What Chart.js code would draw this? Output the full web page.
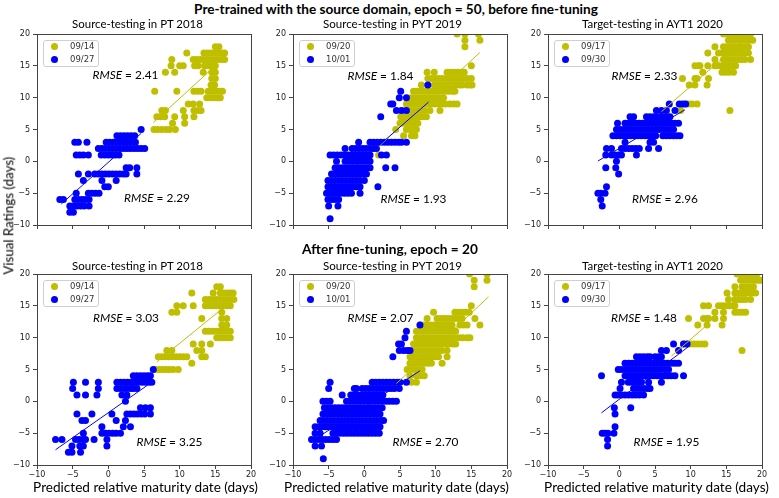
<!DOCTYPE html>
<html><head><meta charset="utf-8">
<script src="https://cdn.jsdelivr.net/npm/chart.js@4/dist/chart.umd.min.js"></script>
<style>
html,body{margin:0;padding:0;background:#fff;}
#wrap{position:relative;width:779px;height:498px;overflow:hidden;}
canvas{position:absolute;}
.t{position:absolute;white-space:nowrap;color:#000;line-height:1;}
.lg{position:absolute;border:1px solid #cfcfcf;border-radius:3px;background:rgba(255,255,255,0.85);font-family:'DejaVu Sans';font-size:8.5px;color:#333;box-sizing:border-box;}
.lg span{position:absolute;line-height:1;}
.lg i{position:absolute;width:7px;height:7px;border-radius:50%;}
</style></head><body><div id="wrap"></div>
<script>
// ---------------- data ----------------
const X_TICKS = [-10, -5, 0, 5, 10, 15, 20];
const Y_TICKS = [-10, -5, 0, 5, 10, 15, 20];
const SUBTITLES = ["Source-testing in PT 2018", "Source-testing in PYT 2019", "Target-testing in AYT1 2020"];
const LEGENDS = [["09/14","09/27"],["09/20","10/01"],["09/17","09/30"],["09/14","09/27"],["09/20","10/01"],["09/17","09/30"]];
const RMSE_UPPER = ["2.41","1.84","2.33","3.03","2.07","1.48"];
const RMSE_LOWER = ["2.29","1.93","2.96","3.25","2.70","1.95"];

// rows: [visual rating, [predicted values...]]
const pre_PT2018_0914 = [[18,[15.0,15.5]],[17,[11.0,13.4,13.9,14.4,14.9,15.4,15.9,16.3]],[16,[8.9,11.9,12.4,12.9,13.4,13.9,14.4,14.9,15.4,15.9,16.3]],[15,[8.8,10.0,10.5,12.1,12.6,13.5,14.0,14.5,15.0]],[14,[8.0,9.3,13.3,14.5,15.0]],[13,[14.5,15.0]],[12,[14.4,14.9]],[11,[6.5,9.6,12.0,12.5,13.0,14.0,14.5,15.0,15.5,16.0]],[10,[13.8,14.3,14.8,15.3,15.7]],[9,[11.2,11.9,12.8]],[8,[7.5,8.0,10.5,12.0,12.5,13.0]],[7,[6.8,7.3,7.9,9.3,10.7,12.0]],[6,[9.0,10.7]],[5,[6.4,6.9,7.5,8.1,8.6,9.4]]];
const pre_PT2018_0927 = [[5,[4.6]],[4,[1.2,1.7,2.2,2.7,3.2,3.7]],[3,[-4.7,-4.2,-3.0,-0.3,0.2,0.7,1.2,1.7,2.2,2.7,3.2,3.8]],[2,[-1.4,-0.9,-0.4,0.1,0.6,1.1,1.6,2.1,2.6,3.1,3.6,4.1,4.6,5.1]],[1,[-4.5,-4.0,-3.5,-2.8,-1.0,-0.5,0.0,0.5,1.0,1.5]],[-1,[2.5,3.0,4.0]],[-2,[-4.2,-2.8,-1.9,-1.4,-0.9,-0.4,0.1,0.6,1.1,1.6,2.1,2.5,4.0]],[-3,[-3.5,-0.9,1.1]],[-4,[-0.5,0.0]],[-5,[-4.5,-2.8,-2.3,-1.8,-1.3]],[-6,[-6.8,-6.3,-4.7,-4.2,-3.7,-3.2,-2.7]],[-7,[-5.4,-4.9,-4.4,-3.9,-3.4,-2.7]],[-8,[-5.4,-4.9]]];
const pre_PYT2019_0920 = [[20,[13.0,14.1,16.0]],[19,[14.1,16.2]],[18,[14.1]],[15,[15.0]],[14,[8.8,9.8,11.6,12.1,12.6,13.1,13.6,14.0]],[13,[8.9,9.4,9.9,10.4,10.9,11.4,11.9,12.4,12.9,13.4,13.9,14.4,15.0]],[12,[8.0,9.8,10.3,10.8,11.3,11.8,12.3,12.8,13.3,13.7,14.4,14.8,15.1]],[11,[6.9,7.4,7.9,8.4,8.9,9.4,9.9,10.4,10.9,11.4,11.9,12.4,12.7]],[10,[6.5,7.0,7.5,8.0,8.5,9.0,9.5,10.0,10.5,11.1]],[9,[5.9,6.4,6.9,7.4,7.9,8.4,8.9,9.4,9.9,10.4,10.9,11.4,12.0,12.5,13.0]],[8,[5.5,6.0,6.5,7.0,7.5,8.0,8.5,9.2,10.6]],[7,[5.1,5.6,6.1,6.6,7.1,7.6,8.1,8.7]],[6,[5.0,5.5,6.0,6.5,7.0,7.5]],[5,[4.4,5.9,6.4,6.9,7.3]],[4,[5.5,6.6,7.1]],[1,[2.0]]];
const pre_PYT2019_1001 = [[12,[8.9]],[11,[5.1]],[10,[4.9,5.9]],[9,[3.7,4.0]],[8,[4.5,5.2,5.9]],[7,[2.3]],[3,[-0.8,0.8,1.3,1.8,2.3,2.8,3.3,3.8,4.3,4.8,5.2,5.9]],[2,[-2.7,-1.7,-1.2,-0.7,-0.2,0.3,0.8,1.3,1.7]],[1,[-4.8,-4.3,-3.8,-3.3,-2.8,-2.3,-1.8,-1.3,-0.8,-0.3,0.2,0.8,2.4,3.1]],[0,[-3.9,-2.7,-2.2,-1.7,-1.2,-0.7,-0.2,0.3,0.8]],[-1,[-4.1,-3.6,-3.1,-2.6,-2.1,-1.6,-1.1,-0.6,-0.1,0.4,0.8,3.0,4.3]],[-2,[-4.6,-4.1,-3.6,-3.1,-2.6,-2.1,-1.6,-1.1,-0.6,-0.1,0.3]],[-3,[-5.1,-4.6,-4.1,-3.6,-3.1,-2.6,-2.1,-1.6,-1.1,-0.6,0.0]],[-4,[-5.1,-4.6,-4.1,-3.6,-3.1,-2.6,-2.1,-1.6,-1.1,-0.6,1.9]],[-5,[-5.3,-4.8,-4.3,-3.8,-3.3,-2.8,-2.3,-1.8,-0.6]],[-6,[-5.1,-4.6,-4.1,-3.6]],[-7,[-5.0,-3.7]],[-9,[-4.8]]];
const pre_AYT2020_0917 = [[20,[14.6,15.1,15.6,16.1,16.6,17.1,17.6,18.0,18.4]],[19,[15.3,15.8,16.3,16.8,17.3,17.8,18.2,18.7]],[18,[13.4,14.6,15.1,15.6,16.1,16.6,17.1,17.6,18.1]],[17,[12.4,13.9,14.4,14.9,15.4,15.9,16.4,16.9,17.4,18.1]],[16,[13.4,14.6,15.1,15.6,16.1,16.6,17.1,17.6,18.4]],[15,[10.6,11.1,11.3,12.4,13.4,13.9,14.4,14.9,15.4,15.9,16.3]],[14,[11.7,14.4,14.9,15.4,16.0]],[13,[8.85,10.6,10.9,12.5]],[12,[9.8,10.6,12.3]],[9,[9.2,9.7,10.2,10.9]],[8,[8.6,15.5]]];
const pre_AYT2020_0930 = [[9,[7.0,8.4,8.85,9.3]],[8,[5.2,5.9,6.6,7.8]],[7,[1.5,2.0,3.8,4.3,4.8,5.2,5.7,6.2,6.6,7.1]],[6,[-0.25,0.8,1.3,1.8,2.3,2.8,3.3,3.8,4.3,4.8,5.3,5.8,6.3,6.8,7.3,7.8,8.3]],[5,[-0.4,0.1,0.6,1.1,1.6,2.1,2.6,3.1,3.6,4.1,4.6,5.1,5.6,6.1,6.6,7.1,7.6]],[4,[-0.9,-0.4,0.1,0.6,1.1,1.6,2.1,2.6,3.1,3.6,4.1,4.6,5.1,6.1,6.6,7.1,7.6,8.1,8.5]],[3,[0.8,4.3,4.8]],[2,[-1.8,-1.1,0.3,0.8,1.3,1.8,2.3,2.8,4.1,5.5]],[1,[-1.9,-1.1,-0.6,-0.1,0.3,2.4]],[0,[-0.4]],[-1,[-1.9,-0.5]],[-2,[-0.1]],[-4,[-1.8]],[-5,[-3.0,-2.6,-2.0]],[-6,[-2.6]],[-7,[-2.4]]];
const post_PT2018_0914 = [[18,[15.2,15.7]],[17,[11.7,14.7,15.7,16.2,16.7,17.1,17.5]],[16,[13.6,14.1,14.6,15.1,15.6,16.1,16.6,17.1,17.6]],[15,[9.6,10.5,11.9,13.6,14.1,14.6,15.1,15.6,16.1,16.6,17.1]],[14,[8.9,9.6,15.9]],[13,[13.1,15.9,16.6]],[12,[15.9,16.6]],[11,[13.6,14.1,14.6,15.1,15.6,16.1,16.6,17.1]],[10,[15.2,15.7,16.2,16.6,17.1]],[9,[11.9,13.1,14.3]],[8,[8.2,8.9,12.4,13.1]],[7,[7.0,7.5,8.0,8.5,9.0,9.5,10.0,10.5,11.0,13.1,13.6]],[6,[11.7]],[5,[6.6,7.1,7.6,8.1,8.6,9.1,9.8]]];
const post_PT2018_0927 = [[5,[6.3]],[4,[3.5,4.0,4.5,5.0,5.5,5.9]],[3,[-4.9,-3.2,-1.4,1.2,1.7,2.2,2.7,3.2,3.7,4.2,4.7,5.2,5.7,6.1]],[2,[-5.0,-1.4,1.2,1.7,2.2,2.6,3.1,3.5,4.0]],[1,[-4.4,-3.2,-1.6,1.9,2.6]],[0,[2.4]],[-1,[4.5,5.2,5.9]],[-2,[-4.4,-2.3,0.5,2.6,3.1,3.6,4.1,4.6,5.1,5.9]],[-3,[-3.7,-3.2,1.1,2.4]],[-4,[-0.9,2.1,3.1]],[-5,[-3.5,-0.9,-0.4,0.1,0.6,1.1,1.7]],[-6,[-7.4,-6.5,-4.6,-4.1,-3.6,-3.2,-2.0,-0.2]],[-7,[-5.1,-4.0,-3.5,-0.2]],[-8,[-5.6,-5.1,-3.9]]];
const post_PYT2019_0920 = [[20,[14.75,17.2]],[19,[15.4,17.2]],[18,[15.4]],[15,[15.0]],[14,[9.7,12.7,13.2,13.7,14.2,14.7]],[13,[8.8,10.2,10.7,11.2,11.7,12.2,12.7,13.2,13.7,15.5]],[12,[7.8,8.3,8.8,9.3,9.8,10.3,10.8,11.3,11.8,12.3,13.4,13.9,14.4,16.2]],[11,[7.3,7.8,8.3,8.8,9.3,9.8,10.3,10.8,11.3,11.8,12.3,12.8]],[10,[7.3,7.8,8.3,8.8,9.3,9.8,10.3,10.8,11.3,11.8,12.3,12.8,13.3,13.8,14.4,14.8]],[9,[6.9,7.4,7.9,8.4,8.9,9.4,9.9,10.4,10.9,11.4,11.9,12.4,12.8]],[8,[6.9,7.4,7.9,8.4,8.9,9.4,9.9,10.4,10.9,11.6]],[7,[6.4,6.9,7.4,7.9,8.4,8.9,9.4,9.9,10.4,11.6]],[6,[6.4,6.9,7.4,7.9,8.4,8.9,9.4,10.9]],[5,[6.0,6.5,7.0,7.5,8.1]],[4,[6.4,7.3,7.8,8.4]],[3,[6.6,7.3]]];
const post_PYT2019_1001 = [[12,[7.8]],[11,[5.9]],[10,[5.7]],[9,[4.8,5.2]],[8,[4.9,5.5,6.0,6.4]],[7,[4.0]],[3,[-4.8,1.1,1.6,2.1,2.6,3.1,3.6,4.1,4.6,5.0,5.9]],[2,[-5.0,-1.4,-1.1,-0.3,0.2,0.7,1.2,1.7,2.2,2.7,3.2,3.7,4.2,4.9]],[1,[-3.1,-1.9,-1.4,-0.9,-0.4,0.1,0.6,1.1,1.6,2.1,2.6]],[0,[-5.8,-5.3,-4.8,-2.5,-2.0,-1.5,-1.0,-0.5,0.0,0.5,1.0,1.5,2.0,2.5,3.0,3.5,4.0,4.5]],[-1,[-5.6,-5.1,-4.6,-4.1,-3.6,-3.1,-2.6,-2.1,-1.6,-1.1,-0.6,-0.1,0.4,0.9,1.4,1.9,2.5]],[-2,[-5.8,-5.3,-4.8,-4.3,-3.8,-3.3,-2.8,-2.3,-1.8,-1.3,-0.8,-0.3,0.2,0.7,1.2,1.7,2.2]],[-3,[-6.2,-5.7,-5.2,-4.7,-4.2,-3.7,-3.2,-2.7,-2.2,-1.7,-1.2,-0.7,-0.2,0.3,0.8,1.3,1.8,2.3,2.7]],[-4,[-6.9,-6.4,-5.9,-5.4,-4.9,-4.4,-3.9,-3.4,-2.9,-2.4,-1.9,-1.4,-0.9,-0.4,0.1,0.6,1.1,1.6,2.2]],[-5,[-6.9,-6.2,-4.4,-3.9,-3.4,-2.9,-2.4,-1.9,-1.4,-0.9,-0.4,0.1,0.6,1.1,1.6,2.1]],[-6,[-7.4,-6.9,-6.4,-5.9,-5.4,-4.9,-4.4,-3.9]],[-7,[-6.9,-6.0]],[-9,[-5.75]]];
const post_AYT2020_0917 = [[20,[16.5,17.0,17.5,18.0,18.5,19.0,19.3]],[19,[17.0,17.5,18.0,18.5,19.0,19.4,19.8]],[18,[16.2,17.2,17.7,18.2,18.8]],[17,[15.1,16.2,16.7,17.2,17.7,18.2,18.7,19.1]],[16,[15.3,16.2,16.7,17.2,17.7,18.4]],[15,[11.8,12.5,13.9,14.4,14.9,15.4,15.8,16.2]],[14,[13.4,14.6,16.2,16.7,17.2,17.7]],[13,[9.7,11.8,12.3,12.5,13.4,14.6]],[12,[11.0,12.3,14.4]],[9,[9.0,9.5,10.0,10.5,11.0,11.5,12.0]],[8,[17.2]]];
const post_AYT2020_0930 = [[9,[7.6,9.0,9.5]],[8,[5.9,6.6,8.3]],[7,[2.4,2.9,3.4,3.9,4.3,5.0,5.5,5.9]],[6,[0.8,1.3,1.8,2.3,2.8,3.3,3.8,4.3,4.8,5.3,5.8,6.3,6.8,7.3,7.8,8.3]],[5,[-0.15,0.3,0.8,1.3,1.8,2.3,2.8,3.3,3.8,4.3,4.8,5.3,5.8,6.4,6.9]],[4,[-2.5,0.8,1.3,1.8,2.3,2.8,3.3,3.8,4.3,4.8,5.3,5.8,6.3,6.8,7.3,7.8,9.0]],[3,[0.3,1.25,1.7,2.2,2.7,3.1,4.1,5.9]],[2,[0.1,2.0,2.5,3.0,3.5,4.0,4.3]],[1,[-0.6,-0.2,0.3,0.8,1.3,1.8,2.3,2.8,3.4]],[-1,[-0.7,1.6]],[-2,[-0.6]],[-4,[-0.6]],[-5,[-2.4,-2.0,-1.6,-0.76]],[-6,[-1.65]],[-7,[-1.65]]];

// regression line end points [[x1,y1],[x2,y2]]
const pre_PT2018_fit_0914 = [[6.3,6.1],[14.5,14.5]];
const pre_PT2018_fit_0927 = [[-6.6,-6.7],[4.6,4.4]];
const pre_PYT2019_fit_0920 = [[2.0,2.3],[16.2,17.1]];
const pre_PYT2019_fit_1001 = [[-5.3,-4.7],[9.0,9.3]];
const pre_AYT2020_fit_0917 = [[5.9,7.8],[18.4,20.0]];
const pre_AYT2020_fit_0930 = [[-3.0,0.05],[9.2,8.1]];
const post_PT2018_fit_0914 = [[6.8,6.2],[15.7,14.3]];
const post_PT2018_fit_0927 = [[-7.4,-7.6],[6.4,3.25]];
const post_PYT2019_fit_0920 = [[4.5,2.8],[17.4,16.4]];
const post_PYT2019_fit_1001 = [[-7.4,-6.3],[7.8,4.8]];
const post_AYT2020_fit_0917 = [[7.3,7.1],[12.5,12.2]];
const post_AYT2020_fit_0930 = [[-2.5,-1.8],[9.7,8.6]];

// ---------------- layout / style ----------------
const YELLOW = '#bfbf00', BLUE = '#0000ff';
const COL_X = [37, 293, 548], ROW_Y = [34, 274], PW = 214, PH = 191;
const AXW = 32, TOPPAD = 6, XAXH = 16, RIGHTPAD = 10;
const DOT_R = 3.5;
const RMSE_POS = [[[125.5,74.5],[157,198]],[[380.5,75.5],[413.5,199]],[[644.5,75.5],[665,199]],
                  [[126,317.5],[169.5,441.5]],[[380.5,317.5],[425.5,441.5]],[[644,317.5],[666.5,441.5]]];

const wrap = document.getElementById('wrap');
function pts(rows){ const out=[]; rows.forEach(([y,xs])=>xs.forEach(x=>out.push({x:x,y:y}))); return out; }
function linePts(f){ return f.map(([x,y])=>({x:x,y:y})); }

const framePlugin = {id:'frame', afterDraw(c){ const a=c.chartArea, ctx=c.ctx; ctx.save(); ctx.strokeStyle='#444'; ctx.lineWidth=1;
  ctx.strokeRect(Math.round(a.left)+0.5, Math.round(a.top)+0.5, Math.round(a.right)-Math.round(a.left), Math.round(a.bottom)-Math.round(a.top)); ctx.restore(); }};

function scaleCfg(axis, showLabels){
  return {
    type:'linear', min:-10, max:20,
    afterBuildTicks: s => { s.ticks = (axis==='x'?X_TICKS:Y_TICKS).map(v=>({value:v})); },
    grid:{display:true, drawOnChartArea:false, drawTicks:true, tickLength:4, color:'#444', tickColor:'#444', lineWidth:1},
    border:{display:false},
    ticks:{display:showLabels, autoSkip:false, maxRotation:0, minRotation:0, padding: axis==='x'?1:3, color:'#222',
           font:{family:'DejaVu Sans', size:8}, callback: v => String(v).replace('-', '\u2212')},
    afterFit: s => { if(axis==='x'){ s.height=XAXH; s.paddingLeft=0; s.paddingRight=0; } else { s.width=AXW; s.paddingTop=0; s.paddingBottom=0; } }
  };
}

const PANELS = [
  [pre_PT2018_0914, pre_PT2018_0927, pre_PT2018_fit_0914, pre_PT2018_fit_0927],
  [pre_PYT2019_0920, pre_PYT2019_1001, pre_PYT2019_fit_0920, pre_PYT2019_fit_1001],
  [pre_AYT2020_0917, pre_AYT2020_0930, pre_AYT2020_fit_0917, pre_AYT2020_fit_0930],
  [post_PT2018_0914, post_PT2018_0927, post_PT2018_fit_0914, post_PT2018_fit_0927],
  [post_PYT2019_0920, post_PYT2019_1001, post_PYT2019_fit_0920, post_PYT2019_fit_1001],
  [post_AYT2020_0917, post_AYT2020_0930, post_AYT2020_fit_0917, post_AYT2020_fit_0930]
];

function addText(html, cx, cy, w, family, weight, rotate){
  const d=document.createElement('div'); d.className='t'; d.innerHTML=html;
  d.style.fontFamily=family; d.style.fontWeight=weight||'normal'; d.style.fontSize='20px';
  wrap.appendChild(d);
  const w0=d.getBoundingClientRect().width; d.style.fontSize=(20*w/w0)+'px';
  const r=d.getBoundingClientRect();
  d.style.left=(cx-r.width/2)+'px'; d.style.top=(cy-r.height/2)+'px';
  if(rotate) d.style.transform='rotate(-90deg)';
  return d;
}

PANELS.forEach((p, i) => {
  const col = i%3, row = Math.floor(i/3);
  const cv = document.createElement('canvas');
  const W = AXW+PW+RIGHTPAD, H = TOPPAD+PH+XAXH;
  cv.width=W; cv.height=H; cv.style.width=W+'px'; cv.style.height=H+'px';
  cv.style.left=(COL_X[col]-AXW)+'px'; cv.style.top=(ROW_Y[row]-TOPPAD)+'px';
  wrap.appendChild(cv);
  const [yel, blu, fy, fb] = p;
  new Chart(cv.getContext('2d'), {
    type:'scatter',
    data:{datasets:[
      {label:'fit '+LEGENDS[i][1], data:linePts(fb), showLine:true, borderColor:BLUE, borderWidth:1, pointRadius:0, fill:false, clip:0},
      {label:'fit '+LEGENDS[i][0], data:linePts(fy), showLine:true, borderColor:YELLOW, borderWidth:1, pointRadius:0, fill:false, clip:0},
      {label:LEGENDS[i][1], data:pts(blu), backgroundColor:BLUE, borderColor:BLUE, pointRadius:DOT_R, pointHoverRadius:DOT_R, pointBorderWidth:0, clip:0},
      {label:LEGENDS[i][0], data:pts(yel), backgroundColor:YELLOW, borderColor:YELLOW, pointRadius:DOT_R, pointHoverRadius:DOT_R, pointBorderWidth:0, clip:0}
    ]},
    options:{
      responsive:false, animation:false, devicePixelRatio:1, events:[],
      layout:{padding:{left:0, top:TOPPAD, right:RIGHTPAD, bottom:0}},
      plugins:{legend:{display:false}, tooltip:{enabled:false}},
      scales:{x:scaleCfg('x', row===1), y:scaleCfg('y', true)}
    },
    plugins:[framePlugin]
  });
  // legend box
  const lg=document.createElement('div'); lg.className='lg';
  lg.style.left=(COL_X[col]+6)+'px'; lg.style.top=(ROW_Y[row]+6)+'px'; lg.style.width='56px'; lg.style.height='27px';
  [[LEGENDS[i][0],YELLOW,6],[LEGENDS[i][1],BLUE,19.5]].forEach(([txt,c,yy])=>{
    const dot=document.createElement('i'); dot.style.background=c; dot.style.left=(11-3.5-1)+'px'; dot.style.top=(yy-3.5-1)+'px'; lg.appendChild(dot);
    const s=document.createElement('span'); s.textContent=txt; s.style.left=(27-1)+'px'; s.style.top=(yy-4.5-1)+'px'; lg.appendChild(s);
  });
  wrap.appendChild(lg);
  // RMSE labels
  addText('<i>RMSE</i> = '+RMSE_UPPER[i], RMSE_POS[i][0][0], RMSE_POS[i][0][1], 66, 'Lato');
  addText('<i>RMSE</i> = '+RMSE_LOWER[i], RMSE_POS[i][1][0], RMSE_POS[i][1][1], 66, 'Lato');
});

// titles
addText('Pre-trained with the source domain, epoch = 50, before fine-tuning', 396, 10, 404, 'Lato', 'bold');
addText('After fine-tuning, epoch = 20', 390, 249, 176, 'Lato', 'bold');
const SUB_CX = [137.5, 392.5, 652.5], SUB_W = [131, 139, 141];
[24, 266].forEach(cy => SUBTITLES.forEach((s, k) => addText(s, SUB_CX[k], cy, SUB_W[k], 'Lato')));
const XL_CX = [145.5, 396.5, 656.5];
XL_CX.forEach(cx => addText('Predicted relative maturity date (days)', cx, 488, 225, 'Lato'));
addText('Visual Ratings (days)', 9, 216, 118, 'Lato', 'normal', true);
</script></body></html>
